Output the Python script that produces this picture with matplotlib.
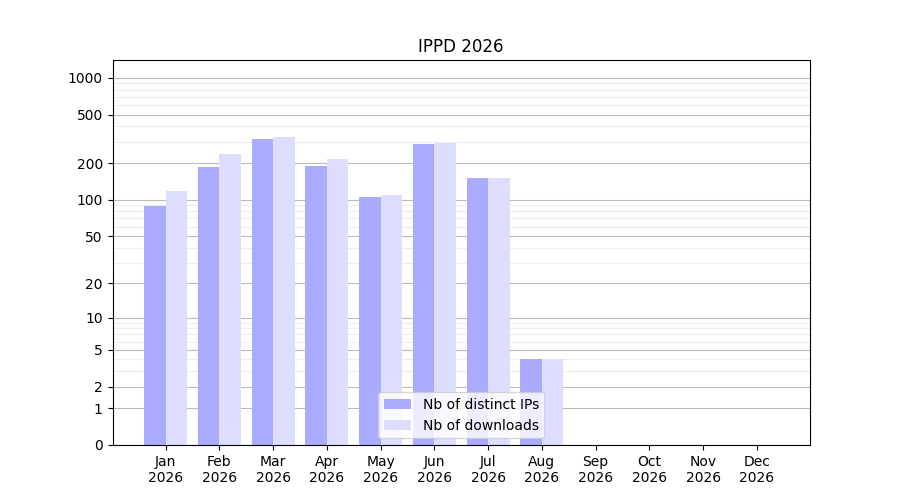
import matplotlib
matplotlib.use("Agg")
import matplotlib.pyplot as plt
import numpy as np

months = ["Jan", "Feb", "Mar", "Apr", "May", "Jun", "Jul", "Aug", "Sep", "Oct", "Nov", "Dec"]
ips = [88, 185, 315, 190, 105, 290, 152, 4, 0, 0, 0, 0]
downloads = [118, 240, 325, 215, 110, 295, 152, 4, 0, 0, 0, 0]
yticks = [0, 1, 2, 5, 10, 20, 50, 100, 200, 500, 1000]

fig, ax = plt.subplots(figsize=(9, 5), dpi=100)
ax.set_yscale('function', functions=(lambda x: np.log10(np.maximum(x, 0) + 1),
                                     lambda y: 10 ** y - 1))
ind = np.arange(len(months))
ax.bar(ind - 0.2, ips, width=0.4, color='#aaaaff', label="Nb of distinct IPs")
ax.bar(ind + 0.2, downloads, width=0.4, color='#ddddff', label="Nb of downloads")

ax.set_ylim(0, 1400)
ax.set_yticks(yticks)
ax.set_yticklabels([str(t) for t in yticks])
minor = [m * d for d in (1, 10, 100, 1000) for m in range(2, 10) if m * d < 1400]
ax.set_yticks(minor, minor=True)
ax.tick_params(axis='y', which='minor', length=0)
ax.grid(axis='y', which='major', color='#bbbbbb', linewidth=0.8)
ax.grid(axis='y', which='minor', color='#eeeeee', linewidth=0.8)
ax.set_axisbelow(True)
ax.set_xticks(ind)
ax.set_xticklabels([m + "\n2026" for m in months])
ax.set_title("IPPD 2026")
ax.legend(loc='lower center')
plt.savefig("out.png")
